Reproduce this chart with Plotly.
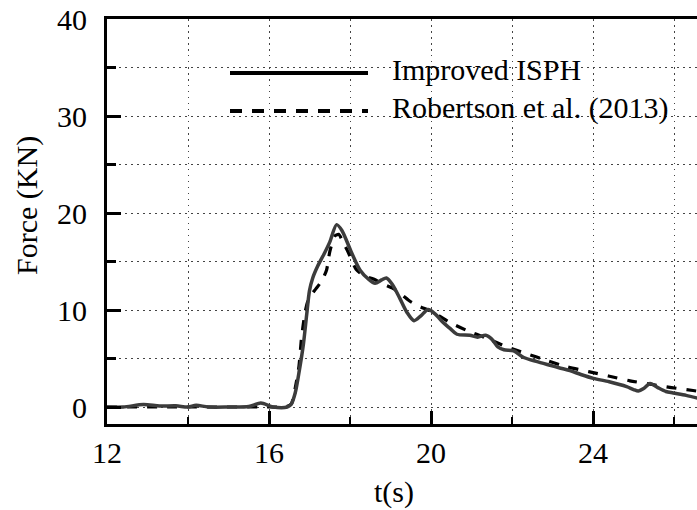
import plotly.graph_objects as go

# Improved ISPH (solid)
t_isph = [12.0, 12.4, 12.9, 13.3, 13.7, 14.0, 14.2, 14.5, 15.0, 15.5, 15.8, 16.1, 16.45,
          16.55, 16.65, 16.75, 16.85, 16.93, 17.0, 17.08, 17.2, 17.35, 17.5, 17.67, 17.8,
          18.04, 18.25, 18.45, 18.62, 18.78, 18.9, 19.05, 19.23, 19.4, 19.58, 19.75, 19.93,
          20.1, 20.3, 20.47, 20.64, 20.96, 21.15, 21.35, 21.5, 21.65, 21.8, 22.04, 22.29,
          22.6, 22.94, 23.2, 23.43, 23.7, 24.01, 24.4, 24.83, 25.0, 25.12, 25.25, 25.41,
          25.6, 25.8, 25.98, 26.3, 26.6]
f_isph = [0.0, 0.0, 0.25, 0.1, 0.12, 0.0, 0.18, 0.0, 0.0, 0.05, 0.4, 0.0, 0.0,
          0.3, 1.5, 3.8, 6.5, 9.5, 12.0, 13.3, 14.5, 15.7, 17.0, 18.8, 18.2,
          15.9, 14.1, 13.2, 12.75, 13.1, 13.3, 12.6, 11.2, 9.8, 8.9, 9.4, 10.05,
          9.6, 8.7, 8.1, 7.5, 7.4, 7.2, 7.4, 7.0, 6.2, 5.9, 5.8, 5.1,
          4.7, 4.3, 4.0, 3.75, 3.35, 2.95, 2.6, 2.1, 1.8, 1.65, 1.9, 2.43,
          2.0, 1.6, 1.45, 1.2, 0.9]

# Robertson et al. (2013) (dashed)
t_rob = [12.0, 14.0, 16.0, 16.4, 16.55, 16.65, 16.74, 16.8, 16.88, 16.95, 17.05, 17.16,
         17.3, 17.42, 17.5, 17.62, 17.72, 17.85, 17.95, 18.15, 18.35, 18.58, 18.8, 19.07,
         19.3, 19.48, 19.7, 19.98, 20.2, 20.43, 20.88, 21.37, 21.87, 22.36, 22.86, 23.35,
         23.89, 24.38, 24.91, 25.41, 25.94, 26.47, 26.7]
f_rob = [0.0, 0.0, 0.0, 0.0, 0.3, 2.0, 4.2, 7.0, 9.5, 10.8, 11.6, 12.2,
         13.0, 14.1, 16.0, 17.6, 17.8, 16.8, 16.0, 14.2, 13.5, 13.2, 12.7, 12.2,
         11.5, 10.9, 10.4, 9.9, 9.4, 8.8, 7.9, 7.1, 6.2, 5.5, 4.8, 4.15,
         3.65, 3.2, 2.7, 2.35, 2.0, 1.7, 1.55]

legend_names = ["Improved ISPH", "Robertson et al. (2013)"]
x_ticks = [12, 16, 20, 24]
y_ticks = [0, 10, 20, 30, 40]

FONT = "'Liberation Serif', 'Times New Roman', serif"

fig = go.Figure()
fig.add_trace(go.Scatter(x=t_rob, y=f_rob, mode="lines", name=legend_names[1],
                         line=dict(color="black", width=3.2, dash="10px,10px", shape="spline", smoothing=0.6),
                         showlegend=False))
fig.add_trace(go.Scatter(x=t_isph, y=f_isph, mode="lines", name=legend_names[0],
                         line=dict(color="#3c3c3c", width=3.5, shape="spline", smoothing=0.8),
                         showlegend=False))

grid = dict(showgrid=True, gridcolor="#444", gridwidth=1.3, griddash="1.5px,4.5px")

fig.update_xaxes(range=[12, 12 + 590 / 40.5], tickvals=x_ticks, ticktext=[str(v) for v in x_ticks],
                 showline=True, linecolor="black", linewidth=3, mirror=True,
                 ticks="inside", ticklen=13, tickwidth=3, tickcolor="black",
                 minor=dict(dtick=2, tick0=0, ticks="inside", ticklen=7, tickwidth=2, tickcolor="black", **grid),
                 zeroline=False, ticklabelstandoff=0,
                 tickfont=dict(family=FONT, size=30, color="black"),
                 **grid)
fig.update_yaxes(range=[-1.753, 40], tickvals=y_ticks, ticktext=[str(v) for v in y_ticks],
                 showline=True, linecolor="black", linewidth=3, mirror=False,
                 ticks="inside", ticklen=14, tickwidth=3, tickcolor="black",
                 minor=dict(dtick=5, tick0=0, ticks="inside", ticklen=9, tickwidth=3, tickcolor="black", **grid),
                 zeroline=False, ticklabelstandoff=11,
                 tickfont=dict(family=FONT, size=30, color="black"),
                 **grid)

W, L, T, B = 697, 107, 19, 424
pw, ph = W - L, B - T
px = lambda x: (x - L) / pw
py = lambda y: (B - y) / ph

shapes = [
    dict(type="line", xref="paper", yref="paper", x0=px(230), x1=px(368), y0=py(73), y1=py(73),
         line=dict(color="black", width=4)),
    dict(type="line", xref="paper", yref="paper", x0=px(230), x1=px(368), y0=py(111), y1=py(111),
         line=dict(color="black", width=4, dash="12px,10px")),
]
annotations = [
    dict(text=legend_names[0], xref="paper", yref="paper", x=px(390), y=py(70), xanchor="left", yanchor="middle",
         showarrow=False, font=dict(family=FONT, size=30, color="black")),
    dict(text=legend_names[1], xref="paper", yref="paper", x=px(390), y=py(108), xanchor="left", yanchor="middle",
         showarrow=False, font=dict(family=FONT, size=30, color="black")),
    dict(text="t(s)", xref="paper", yref="paper", x=px(394), y=py(492), xanchor="center", yanchor="middle",
         showarrow=False, font=dict(family=FONT, size=30, color="black")),
    dict(text="Force (KN)", xref="paper", yref="paper", x=px(27), y=py(206), xanchor="center", yanchor="middle",
         textangle=-90, showarrow=False, font=dict(family=FONT, size=30, color="black")),
]

fig.update_layout(width=697, height=510, margin=dict(l=L, r=0, t=T, b=510 - B),
                  plot_bgcolor="white", paper_bgcolor="white",
                  shapes=shapes, annotations=annotations, showlegend=False)

fig.write_html("out.html")
